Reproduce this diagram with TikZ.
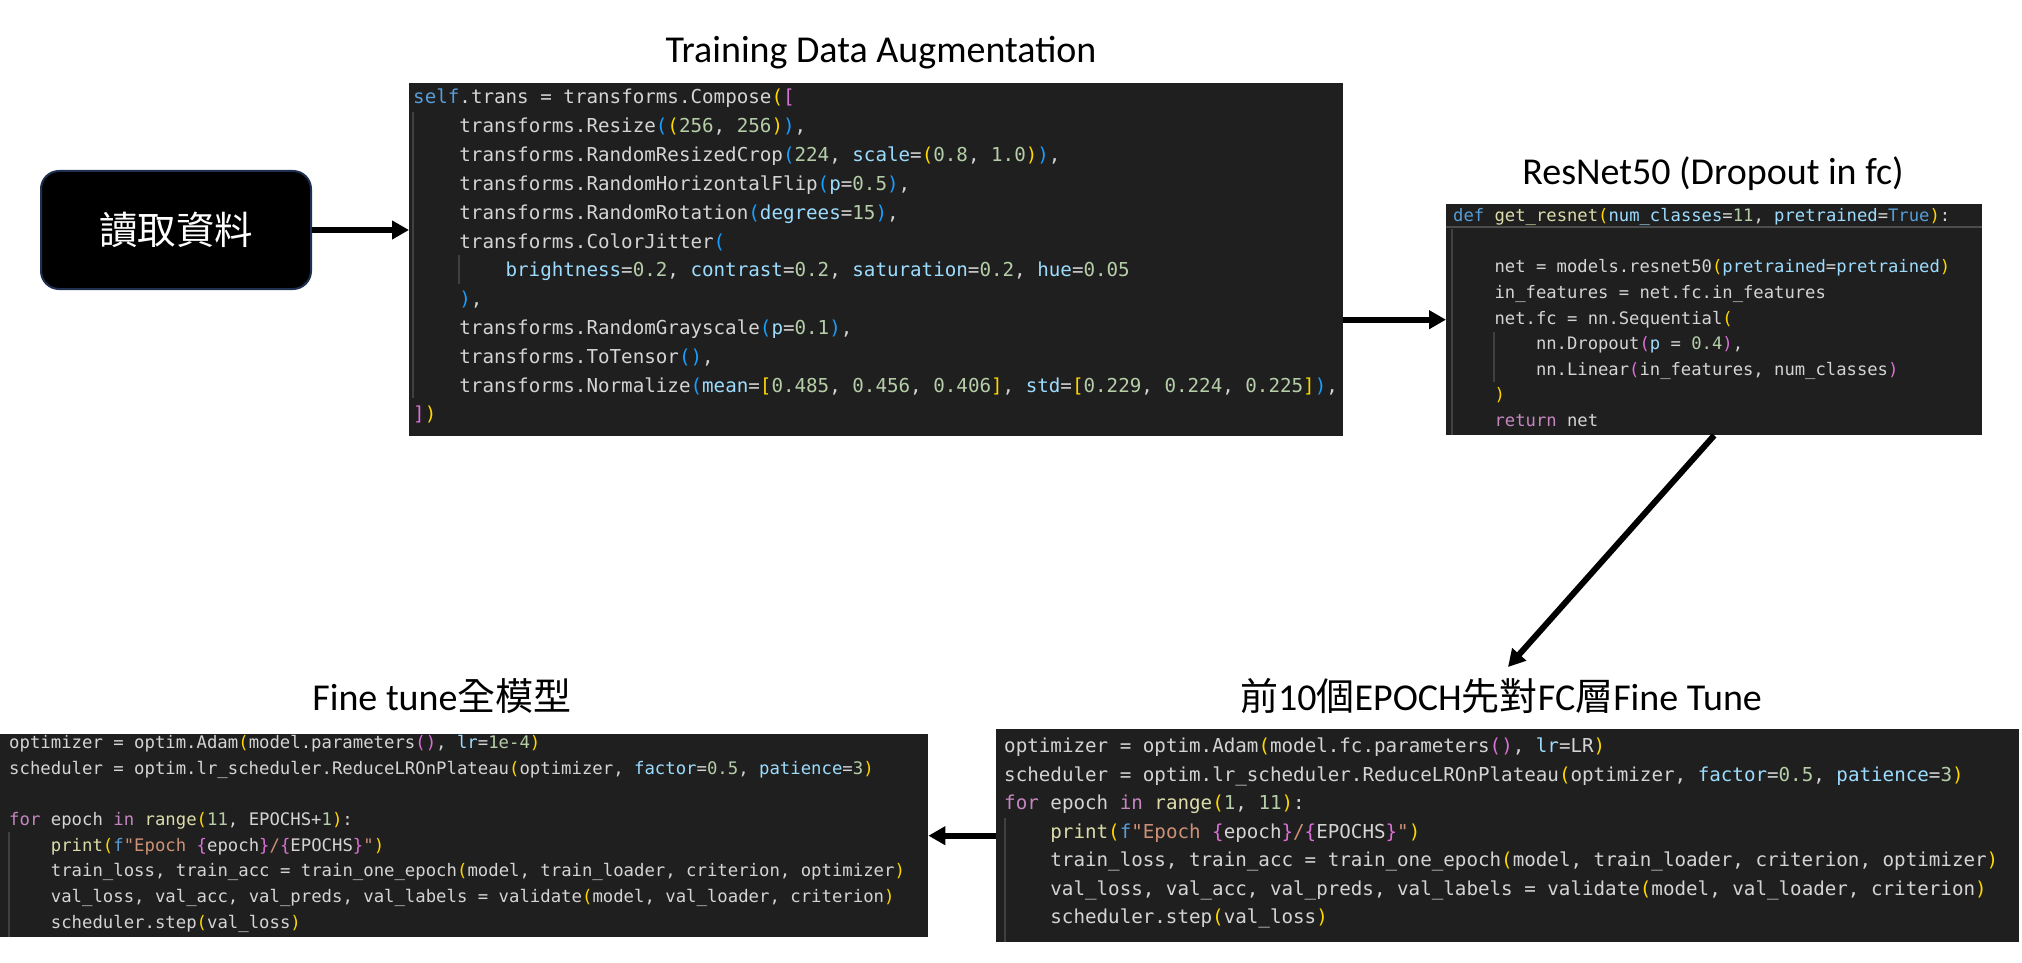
\documentclass[tikz,border=0pt]{standalone}
\usepackage{fontspec}
\usetikzlibrary{arrows.meta}
\newfontfamily\mono{DejaVu Sans Mono}
\newfontfamily\calib{Carlito}
\newfontfamily\cjk{Noto Sans CJK TC}
\definecolor{bgcode}{HTML}{1F1F1F}
\definecolor{cdef}{HTML}{D4D4D4}
\definecolor{cvar}{HTML}{9CDCFE}
\definecolor{cfun}{HTML}{DCDCAA}
\definecolor{cnum}{HTML}{B5CEA8}
\definecolor{ckw}{HTML}{569CD6}
\definecolor{cctl}{HTML}{C586C0}
\definecolor{cstr}{HTML}{CE9178}
\definecolor{brA}{HTML}{FFD700}
\definecolor{brB}{HTML}{DA70D6}
\definecolor{brC}{HTML}{179FFF}
\definecolor{guide}{HTML}{404040}
\definecolor{navy}{HTML}{1F3050}
\newcommand\czv[1]{\textcolor{cvar}{#1}}
\newcommand\czf[1]{\textcolor{cfun}{#1}}
\newcommand\czn[1]{\textcolor{cnum}{#1}}
\newcommand\czk[1]{\textcolor{ckw}{#1}}
\newcommand\czc[1]{\textcolor{cctl}{#1}}
\newcommand\czs[1]{\textcolor{cstr}{#1}}
\newcommand\cza[1]{\textcolor{brA}{#1}}
\newcommand\czb[1]{\textcolor{brB}{#1}}
\newcommand\czr[1]{\textcolor{brC}{#1}}
\frenchspacing
\begin{document}
\begin{tikzpicture}[x=1pt,y=-1pt,
  codebox/.style={fill=bgcode, draw=none, inner sep=0pt, anchor=north west},
  codeA/.style={anchor=base west, inner sep=0pt, text=cdef, font=\mono\fontsize{19.2}{24}\selectfont},
  codeB/.style={anchor=base west, inner sep=0pt, text=cdef, font=\mono\fontsize{17.2}{22}\selectfont},
  codeC/.style={anchor=base west, inner sep=0pt, text=cdef, font=\mono\fontsize{17.3}{22}\selectfont},
  title/.style={anchor=base, inner sep=0pt, text=black, font=\calib\fontsize{38}{44}\selectfont},
  guideline/.style={draw=guide, line width=1.3pt},
  arr/.style={line width=6pt, draw=black, -{Triangle[length=17pt,width=18pt]}}
]
\useasboundingbox (0,0) rectangle (2022,963);
\fill[white] (0,0) rectangle (2022,963);

% start box
\node[fill=black, draw=navy, line width=2pt, rounded corners=18pt,
      minimum width=270pt, minimum height=118pt, inner sep=0pt,
      text=white, font=\cjk\fontsize{38.5}{44}\selectfont] (start) at (176,230) {讀取資料};

% titles
\node[title] (t1) at (881,63) {Training Data Augmentation};
\node[title] (t2) at (1713,185) {ResNet50 (Dropout in fc)};
\node[title] (t3) at (1501,710) {{\cjk 前}10{\cjk 個}EPOCH{\cjk 先對}FC{\cjk 層}Fine Tune};
\node[title] (t4) at (442,710) {Fine tune{\cjk 全模型}};

% code blocks
\node[codebox, minimum width=934pt, minimum height=353pt] (b1) at (409,83) {};
\node[codebox, minimum width=536pt, minimum height=231pt] (b2) at (1446,204) {};
\node[codebox, minimum width=1023pt, minimum height=213pt] (b3) at (996,729) {};
\node[codebox, minimum width=928pt, minimum height=203pt] (b4) at (0,734) {};

% guides block 1
\draw[guideline] (413,112) -- (413,398);
\draw[guideline] (459,255) -- (459,284);
% block 2 extras
\draw[draw=bgcode!80!white, line width=2pt] (1446,227) -- (1982,227);
\draw[guideline] (1452,229) -- (1452,435);
\draw[guideline] (1494,332) -- (1494,382);
% block 3 guide
\draw[guideline] (1005,818) -- (1005,942);
% block 4 guide
\draw[guideline] (9,832) -- (9,937);

% block 1 code
\node[codeA] (c1l1) at (413,104.0) {\czk{self}.trans = transforms.Compose\cza{(}\czb{[}};
\node[codeA] (c1l2) at (459.2,132.8) {transforms.Resize\czr{(}\cza{(}\czn{256}, \czn{256}\cza{)}\czr{)},};
\node[codeA] (c1l3) at (459.2,161.6) {transforms.RandomResizedCrop\czr{(}\czn{224}, \czv{scale}=\cza{(}\czn{0.8}, \czn{1.0}\cza{)}\czr{)},};
\node[codeA] (c1l4) at (459.2,190.4) {transforms.RandomHorizontalFlip\czr{(}\czv{p}=\czn{0.5}\czr{)},};
\node[codeA] (c1l5) at (459.2,219.2) {transforms.RandomRotation\czr{(}\czv{degrees}=\czn{15}\czr{)},};
\node[codeA] (c1l6) at (459.2,248.0) {transforms.ColorJitter\czr{(}};
\node[codeA] (c1l7) at (505.4,276.8) {\czv{brightness}=\czn{0.2}, \czv{contrast}=\czn{0.2}, \czv{saturation}=\czn{0.2}, \czv{hue}=\czn{0.05}};
\node[codeA] (c1l8) at (459.2,305.6) {\czr{)},};
\node[codeA] (c1l9) at (459.2,334.4) {transforms.RandomGrayscale\czr{(}\czv{p}=\czn{0.1}\czr{)},};
\node[codeA] (c1l10) at (459.2,363.2) {transforms.ToTensor\czr{()},};
\node[codeA] (c1l11) at (459.2,392.0) {transforms.Normalize\czr{(}\czv{mean}=\cza{[}\czn{0.485}, \czn{0.456}, \czn{0.406}\cza{]}, \czv{std}=\cza{[}\czn{0.229}, \czn{0.224}, \czn{0.225}\cza{]}\czr{)},};
\node[codeA] (c1l12) at (413,420.8) {\czb{]}\cza{)}};

% block 2 code
\node[codeB] (c2l1) at (1453,221.7) {\czk{def} \czf{get\_resnet}\cza{(}\czv{num\_classes}=\czn{11}, \czv{pretrained}=\czk{True}\cza{)}:};
\node[codeB] (c2l3) at (1494.4,272.9) {net = models.resnet50\cza{(}\czv{pretrained}=\czv{pretrained}\cza{)}};
\node[codeB] (c2l4) at (1494.4,298.5) {in\_features = net.fc.in\_features};
\node[codeB] (c2l5) at (1494.4,324.1) {net.fc = nn.Sequential\cza{(}};
\node[codeB] (c2l6) at (1535.8,349.7) {nn.Dropout\czb{(}\czv{p} = \czn{0.4}\czb{)},};
\node[codeB] (c2l7) at (1535.8,375.3) {nn.Linear\czb{(}in\_features, num\_classes\czb{)}};
\node[codeB] (c2l8) at (1494.4,400.9) {\cza{)}};
\node[codeB] (c2l9) at (1494.4,426.5) {\czc{return} net};

% block 3 code
\node[codeA] (c3l1) at (1004,752.7) {optimizer = optim.Adam\cza{(}model.fc.parameters\czb{()}, \czv{lr}=LR\cza{)}};
\node[codeA] (c3l2) at (1004,781.2) {scheduler = optim.lr\_scheduler.ReduceLROnPlateau\cza{(}optimizer, \czv{factor}=\czn{0.5}, \czv{patience}=\czn{3}\cza{)}};
\node[codeA] (c3l3) at (1004,809.7) {\czc{for} epoch \czc{in} \czf{range}\cza{(}\czn{1}, \czn{11}\cza{)}:};
\node[codeA] (c3l4) at (1050.2,838.2) {\czf{print}\cza{(}\czk{f}\czs{"Epoch }\czb{\{}epoch\czb{\}}\czs{/}\czb{\{}EPOCHS\czb{\}}\czs{"}\cza{)}};
\node[codeA] (c3l5) at (1050.2,866.7) {train\_loss, train\_acc = train\_one\_epoch\cza{(}model, train\_loader, criterion, optimizer\cza{)}};
\node[codeA] (c3l6) at (1050.2,895.2) {val\_loss, val\_acc, val\_preds, val\_labels = validate\cza{(}model, val\_loader, criterion\cza{)}};
\node[codeA] (c3l7) at (1050.2,923.7) {scheduler.step\cza{(}val\_loss\cza{)}};

% block 4 code
\node[codeC] (c4l1) at (9,748.3) {optimizer = optim.Adam\cza{(}model.parameters\czb{()}, \czv{lr}=\czn{1e-4}\cza{)}};
\node[codeC] (c4l2) at (9,774.0) {scheduler = optim.lr\_scheduler.ReduceLROnPlateau\cza{(}optimizer, \czv{factor}=\czn{0.5}, \czv{patience}=\czn{3}\cza{)}};
\node[codeC] (c4l4) at (9,825.4) {\czc{for} epoch \czc{in} \czf{range}\cza{(}\czn{11}, EPOCHS+\czn{1}\cza{)}:};
\node[codeC] (c4l5) at (50.7,851.1) {\czf{print}\cza{(}\czk{f}\czs{"Epoch }\czb{\{}epoch\czb{\}}\czs{/}\czb{\{}EPOCHS\czb{\}}\czs{"}\cza{)}};
\node[codeC] (c4l6) at (50.7,876.8) {train\_loss, train\_acc = train\_one\_epoch\cza{(}model, train\_loader, criterion, optimizer\cza{)}};
\node[codeC] (c4l7) at (50.7,902.5) {val\_loss, val\_acc, val\_preds, val\_labels = validate\cza{(}model, val\_loader, criterion\cza{)}};
\node[codeC] (c4l8) at (50.7,928.2) {scheduler.step\cza{(}val\_loss\cza{)}};

% arrows
\coordinate (a3end) at (1508,667);
\draw[arr] (start.east) -- (start.east -| b1.west);
\draw[arr] (b1.east |- b2.west) -- (b2.west);
\draw[arr] (b2.south) -- (a3end);
\draw[arr] (b3.west) -- (b3.west -| b4.east);
\end{tikzpicture}
\end{document}
